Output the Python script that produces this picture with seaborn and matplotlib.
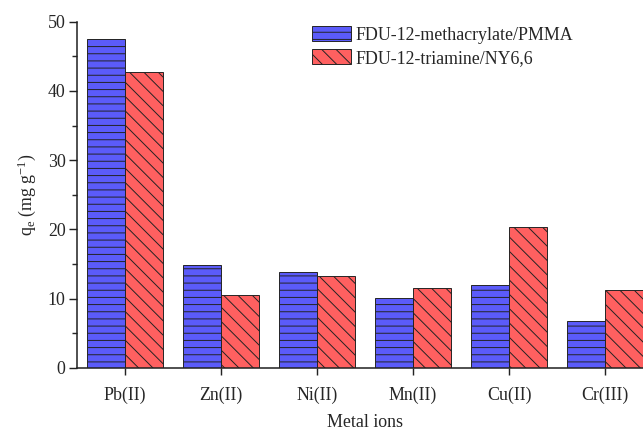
import matplotlib
matplotlib.use("Agg")
import matplotlib.pyplot as plt
import seaborn as sns
import pandas as pd

categories = ["Pb(II)", "Zn(II)", "Ni(II)", "Mn(II)", "Cu(II)", "Cr(III)"]
series_names = ["FDU-12-methacrylate/PMMA", "FDU-12-triamine/NY6,6"]
pmma_values = [47.5, 14.8, 13.9, 10.1, 12.0, 6.7]
ny66_values = [42.7, 10.5, 13.2, 11.5, 20.4, 11.3]
y_ticks = [0, 10, 20, 30, 40, 50]

df = pd.DataFrame({
    "ion": categories * 2,
    "series": [series_names[0]] * len(categories) + [series_names[1]] * len(categories),
    "q": pmma_values + ny66_values,
})

sns.set_style("ticks")
plt.rcParams["font.family"] = ["Liberation Serif", "DejaVu Serif"]
plt.rcParams["mathtext.fontset"] = "custom"
plt.rcParams["mathtext.rm"] = "Liberation Serif"
plt.rcParams["mathtext.it"] = "Liberation Serif:italic"
plt.rcParams["hatch.linewidth"] = 0.8

DPI = 86
fig = plt.figure(figsize=(643 / DPI, 431 / DPI), dpi=DPI)
ax = fig.add_axes([77 / 643, (431 - 367.7) / 431, 576 / 643, 346 / 431])

colors = ["#5B5BFA", "#FF6060"]
sns.barplot(data=df, x="ion", y="q", hue="series", hue_order=series_names,
            order=categories, palette=colors, width=0.8, saturation=1,
            edgecolor="#222222", linewidth=0.8, ax=ax, legend=False)

hatches = ["--", "\\\\"]
for cont, h in zip(ax.containers, hatches):
    for bar in cont:
        bar.set_hatch(h)

handles = [cont.patches[0] for cont in ax.containers]
leg = ax.legend(handles, series_names, loc="upper left",
                bbox_to_anchor=(312 / 643, 1 - 26 / 431),
                bbox_transform=fig.transFigure, frameon=False,
                fontsize=15, borderpad=0, borderaxespad=0,
                handlelength=2.2, handleheight=0.9,
                handletextpad=0.25, labelspacing=0.3)

ax.set_xlim(-0.5, 5.5)
ax.set_ylim(0, 50)
ax.set_yticks(y_ticks)
ax.set_yticks([5, 15, 25, 35, 45], minor=True)
ax.tick_params(axis="both", labelsize=15, direction="out", width=1.2, color="#222222")
ax.tick_params(axis="y", which="major", length=7, pad=2.5)
ax.tick_params(axis="y", which="minor", length=4, width=1.2)
ax.tick_params(axis="x", length=6, pad=10)
ax.set_xlabel("Metal ions", fontsize=15, labelpad=8)
ax.set_ylabel(r"q$_\mathrm{e}$ (mg g$^{\mathrm{-1}}$)", fontsize=15, labelpad=8)

for s in ["top", "right"]:
    ax.spines[s].set_visible(False)
for s in ["left", "bottom"]:
    ax.spines[s].set_linewidth(1.3)
    ax.spines[s].set_color("#222222")

fig.savefig("out.png", dpi=DPI)
